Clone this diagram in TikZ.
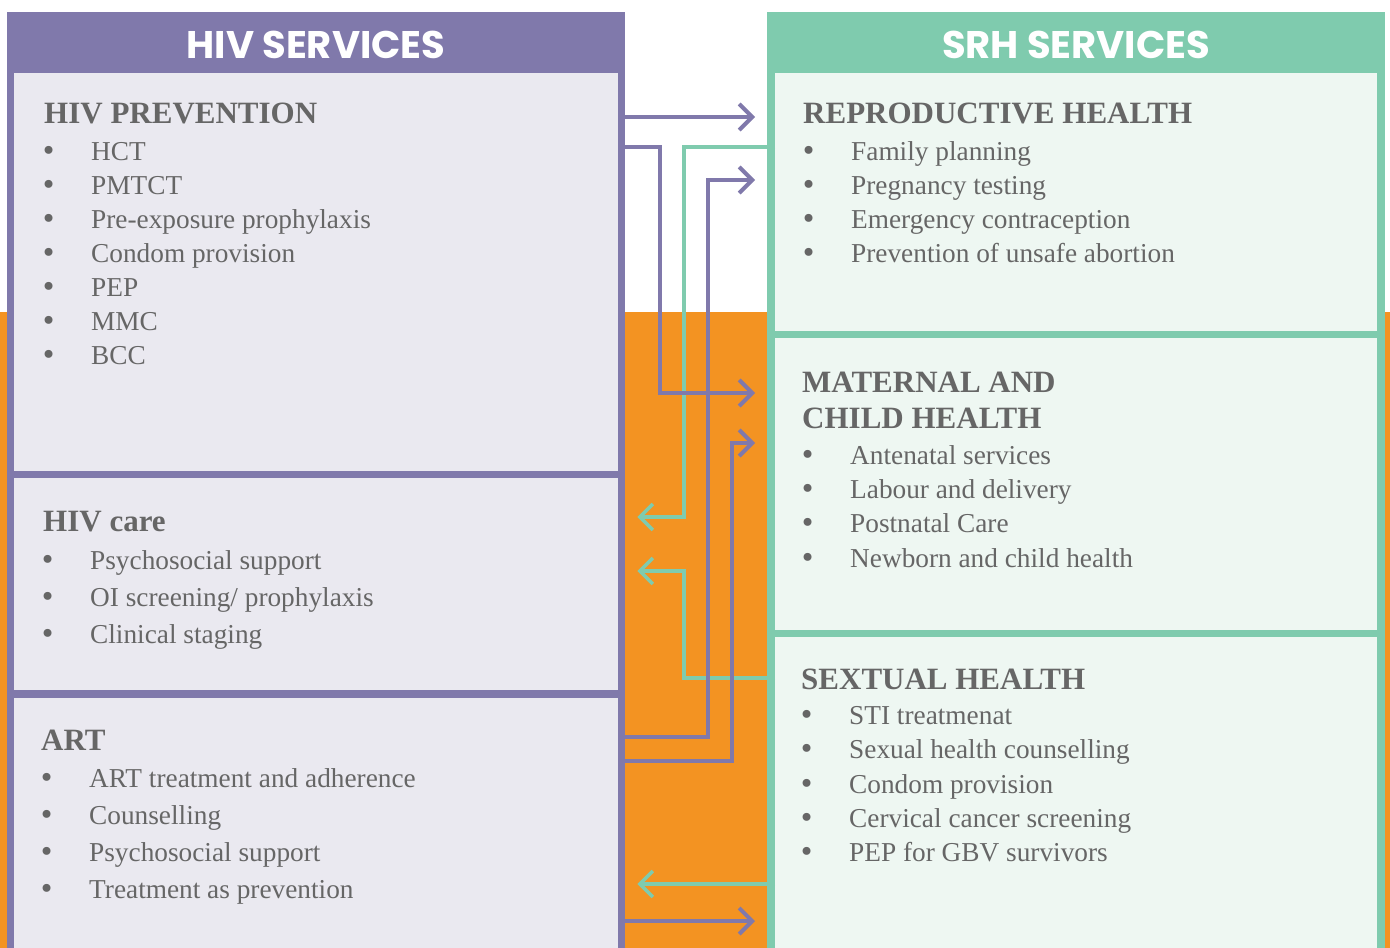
\documentclass[tikz,border=0pt]{standalone}
\usepackage{fontspec}
\setmainfont{Liberation Serif}
\newfontfamily\hdrfont{Poppins}
\newfontfamily\bulfont{DejaVu Sans}
\usetikzlibrary{arrows.meta}
\definecolor{hivpurple}{HTML}{8079AB}
\definecolor{srhgreen}{HTML}{7FCBAE}
\definecolor{bgorange}{HTML}{F39322}
\definecolor{hivfill}{HTML}{EAE9F0}
\definecolor{srhfill}{HTML}{EEF7F2}
\definecolor{txtgray}{HTML}{666666}
\newcommand\itm[4]{\node[itemtxt] (#1) at (#2,#3) {\makebox[43pt][l]{\hspace{-7.5pt}{\bulfont •}}#4};}
\begin{document}
\begin{tikzpicture}[x=1pt,y=-1pt,
  panelhdr/.style={font=\hdrfont\bfseries\fontsize{38.5}{44}\selectfont, text=white, inner sep=0pt, anchor=center},
  panel/.style={rectangle, draw=none, inner sep=0pt, anchor=north west},
  hivbox/.style={rectangle, fill=hivfill, draw=none, inner sep=0pt, anchor=north west, minimum width=604pt},
  srhbox/.style={rectangle, fill=srhfill, draw=none, inner sep=0pt, anchor=north west, minimum width=602pt},
  headtxt/.style={font=\bfseries\fontsize{31}{37}\selectfont, text=txtgray, inner sep=0pt, anchor=base west},
  itemtxt/.style={font=\fontsize{27.3}{34}\selectfont, text=txtgray, inner sep=0pt, anchor=base west},
  parr/.style={draw=hivpurple, line width=4pt, -{Straight Barb[length=13pt,width=26pt]}, shorten >=20pt},
  garr/.style={draw=srhgreen, line width=3.5pt, -{Straight Barb[length=13pt,width=26pt]}, shorten >=19pt}
]
\useasboundingbox (0,0) rectangle (1390,948);
% background
\fill[bgorange] (0,312) rectangle (1390,948);
% panels
\node[panel, fill=hivpurple, minimum width=618pt, minimum height=936pt] (hivpanel) at (7,12) {};
\node[panel, fill=srhgreen, minimum width=618pt, minimum height=936pt] (srhpanel) at (767,12) {};
\node[panelhdr] (hivtitle) at (316,45) {HIV SERVICES};
\node[panelhdr] (srhtitle) at (1076,45) {SRH SERVICES};
% HIV boxes
\node[hivbox, minimum height=398pt] (hivprev) at (14,73) {};
\node[hivbox, minimum height=212pt] (hivcare) at (14,478) {};
\node[hivbox, minimum height=250pt] (art) at (14,698) {};
% SRH boxes
\node[srhbox, minimum height=258pt] (repro) at (775,73) {};
\node[srhbox, minimum height=292pt] (mch) at (775,338) {};
\node[srhbox, minimum height=311pt] (sexual) at (775,637) {};
% HIV prevention text
\node[headtxt] (hpT) at (44,123) {HIV PREVENTION};
\itm{hp1}{48}{160}{HCT}
\itm{hp2}{48}{194}{PMTCT}
\itm{hp3}{48}{228}{Pre-exposure prophylaxis}
\itm{hp4}{48}{262}{Condom provision}
\itm{hp5}{48}{296}{PEP}
\itm{hp6}{48}{330}{MMC}
\itm{hp7}{48}{364}{BCC}
% HIV care
\node[headtxt] (hcT) at (43,531) {HIV care};
\itm{hc1}{47}{569}{Psychosocial support}
\itm{hc2}{47}{606}{OI screening/ prophylaxis}
\itm{hc3}{47}{643}{Clinical staging}
% ART
\node[headtxt] (arT) at (41,750) {ART};
\itm{ar1}{46}{787}{ART treatment and adherence}
\itm{ar2}{46}{824}{Counselling}
\itm{ar3}{46}{861}{Psychosocial support}
\itm{ar4}{46}{898}{Treatment as prevention}
% Reproductive health
\node[headtxt] (rhT) at (803,123) {REPRODUCTIVE HEALTH};
\itm{rh1}{808}{160}{Family planning}
\itm{rh2}{808}{194}{Pregnancy testing}
\itm{rh3}{808}{228}{Emergency contraception}
\itm{rh4}{808}{262}{Prevention of unsafe abortion}
% Maternal and child health
\node[headtxt] (mcT1) at (802,392) {MATERNAL AND};
\node[headtxt] (mcT2) at (802,428) {CHILD HEALTH};
\itm{mc1}{807}{464}{Antenatal services}
\itm{mc2}{807}{498}{Labour and delivery}
\itm{mc3}{807}{532}{Postnatal Care}
\itm{mc4}{807}{567}{Newborn and child health}
% Sexual health
\node[headtxt] (shT) at (801,689) {SEXTUAL HEALTH};
\itm{sh1}{806}{724}{STI treatmenat}
\itm{sh2}{806}{758}{Sexual health counselling}
\itm{sh3}{806}{793}{Condom provision}
\itm{sh4}{806}{827}{Cervical cancer screening}
\itm{sh5}{806}{861}{PEP for GBV survivors}
% connectors
\draw[garr] (repro.west |- 0,147) -| (684,517) -- (hivcare.east |- 0,517);
\draw[garr] (sexual.west |- 0,678) -| (684,571) -- (hivcare.east |- 0,571);
\draw[garr] (sexual.west |- 0,884) -- (art.east |- 0,884);
\draw[parr] (hivprev.east |- 0,117) -- (repro.west |- 0,117);
\draw[parr] (hivprev.east |- 0,147) -| (660,393) -- (mch.west |- 0,393);
\draw[parr] (art.east |- 0,737) -| (708,180) -- (repro.west |- 0,180);
\draw[parr] (art.east |- 0,761) -| (732,443) -- (mch.west |- 0,443);
\draw[parr] (art.east |- 0,921) -- (sexual.west |- 0,921);
\end{tikzpicture}
\end{document}
